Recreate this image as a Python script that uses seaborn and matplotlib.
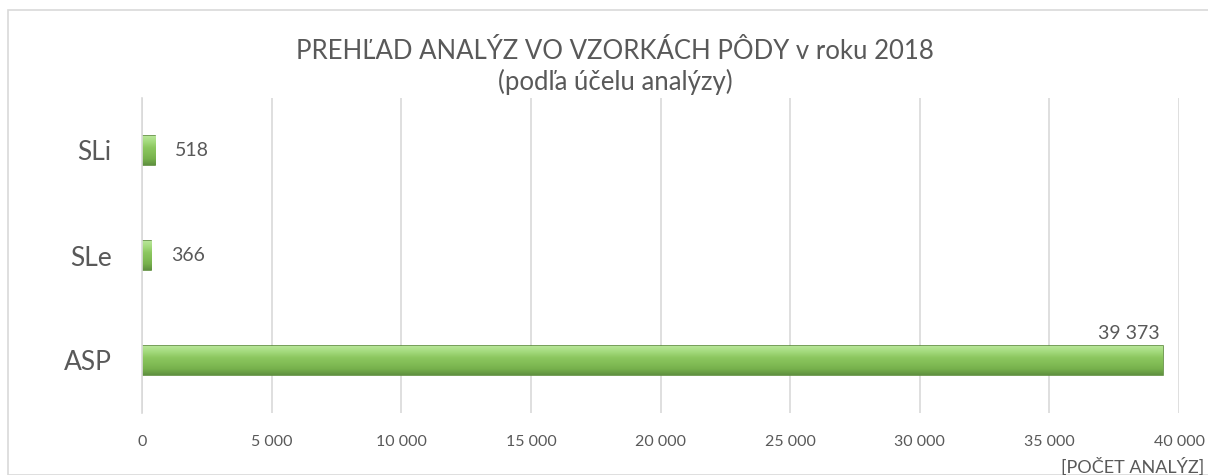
import matplotlib
matplotlib.use("Agg")
import matplotlib.pyplot as plt
from matplotlib.patches import Rectangle
from matplotlib.colors import LinearSegmentedColormap
import numpy as np
import seaborn as sns
import pandas as pd

# data
categories = ["SLi", "SLe", "ASP"]
values = [518, 366, 39373]
x_ticks = [0, 5000, 10000, 15000, 20000, 25000, 30000, 35000, 40000]

TEXT = "#595959"
GRID = "#d9d9d9"
GREEN = "#84c259"
EDGE = "#5d8d3c"

# shading for the bevelled bars (top -> bottom)
bar_cmap = LinearSegmentedColormap.from_list(
    "bevel", ["#b7e597", "#a2d97b", "#8cc75f", "#82bd56", "#76b04c", "#5f9140"]
)


def fmt(v):
    return f"{v:,.0f}".replace(",", " ")


sns.set_theme(style="white")
plt.rcParams["font.family"] = ["Lato", "DejaVu Sans"]

df = pd.DataFrame({"Účel": categories, "Počet": values})

fig = plt.figure(figsize=(12.08, 4.75), dpi=100)
fig.patches.append(
    Rectangle((8 / 1208, 0), 1.2, 1 - 10 / 475, transform=fig.transFigure,
              fill=False, edgecolor=GRID, linewidth=1.2)
)
ax = fig.add_axes([142 / 1208, 1 - 413 / 475, 1037 / 1208, 315 / 475])

sns.barplot(data=df, x="Počet", y="Účel", order=categories, color=GREEN,
            width=0.27, edgecolor=EDGE, linewidth=1.2, saturation=1, ax=ax)

# gradient fill clipped to each bar
grad = np.linspace(0, 1, 64).reshape(-1, 1)
for p in ax.patches:
    x0, y0 = p.get_x(), p.get_y()
    w, h = p.get_width(), p.get_height()
    im = ax.imshow(grad, cmap=bar_cmap, aspect="auto",
                   extent=(x0, x0 + w, y0 + h, y0), origin="upper", zorder=p.get_zorder())
    im.set_clip_path(p)
ax.set_xlim(0, 40000)
ax.set_ylim(2.5, -0.5)

ax.set_xticks(x_ticks)
ax.set_xticklabels([fmt(t) for t in x_ticks], fontsize=11.5, color=TEXT)
ax.tick_params(axis="x", length=0, pad=16)
ax.set_yticks(range(len(categories)))
ax.set_yticklabels(categories, fontsize=19, color=TEXT)
ax.set_yticks([-0.5, 0.5, 1.5, 2.5], minor=True)
ax.tick_params(axis="y", which="major", length=0, pad=22)
ax.tick_params(axis="y", which="minor", length=8, color=GRID, width=1.2)
ax.grid(axis="x", color=GRID, linewidth=1.2)
ax.set_axisbelow(True)
for s in ["top", "right", "bottom"]:
    ax.spines[s].set_visible(False)
ax.spines["left"].set_color(GRID)
ax.spines["left"].set_linewidth(1.2)
ax.set_xlabel("")
ax.set_ylabel("")

# data labels
for i, v in enumerate(values):
    if v > 30000:
        ax.annotate(fmt(v), (v, i - 0.14), xytext=(-2, 3), textcoords="offset points",
                    ha="right", va="bottom", fontsize=14, color=TEXT)
    else:
        ax.annotate(fmt(v), (v, i), xytext=(14, 0), textcoords="offset points",
                    ha="left", va="center", fontsize=14, color=TEXT)

fig.text(0.509, 1 - 67 / 475, "PREHĽAD ANALÝZ VO VZORKÁCH PÔDY v roku 2018\n(podľa účelu analýzy)",
         ha="center", va="center", fontsize=18.5, color=TEXT, linespacing=1.25)
fig.text(1204 / 1208, 1 - 467 / 475, "[POČET ANALÝZ]", ha="right", va="center",
         fontsize=13, color=TEXT)

fig.savefig("out.png", dpi=100, facecolor="white")
